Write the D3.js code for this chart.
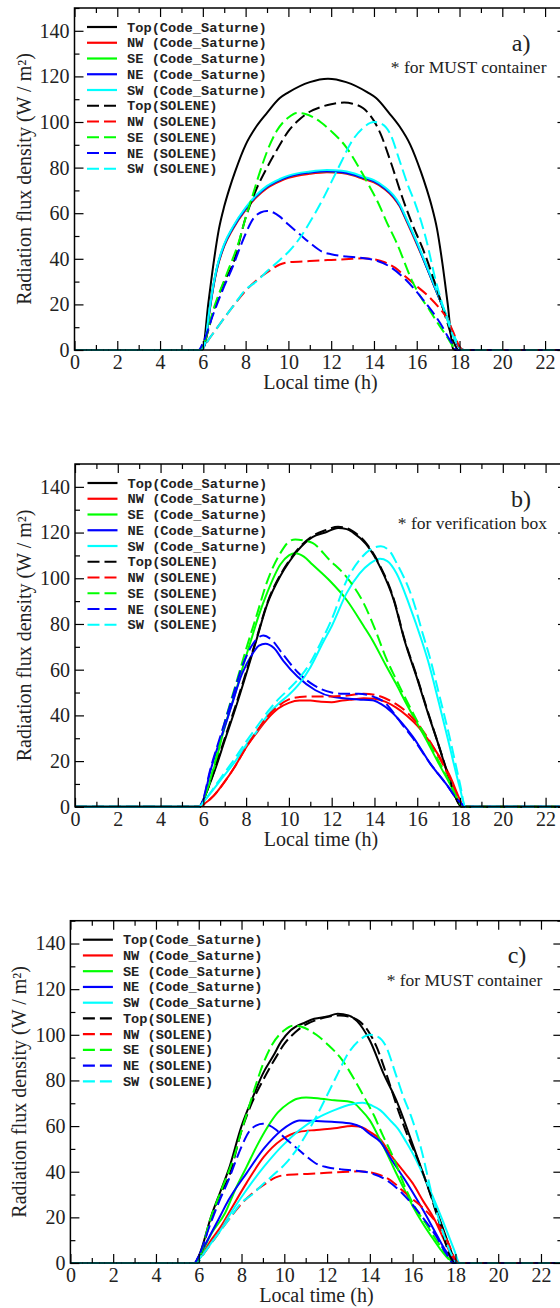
<!DOCTYPE html>
<html><head><meta charset="utf-8">
<script src="https://cdn.jsdelivr.net/npm/d3@7"></script>
<style>body{margin:0;background:#fff}svg{display:block}</style>
</head><body>
<svg id="chart" width="560" height="1308"></svg>
<script>
// ---------- tick labels / categories ----------
const hourTicks = [0,2,4,6,8,10,12,14,16,18,20,22];
const hourMinor = [1,3,5,7,9,11,13,15,17,19,21,23];
const valueTicks = [0,20,40,60,80,100,120,140];
const valueMinor = [10,30,50,70,90,110,130,150];
const legendLabels = ["Top(Code_Saturne)","NW (Code_Saturne)","SE (Code_Saturne)","NE (Code_Saturne)","SW (Code_Saturne)",
                      "Top(SOLENE)","NW (SOLENE)","SE (SOLENE)","NE (SOLENE)","SW (SOLENE)"];
const panelLabels = ["a)","b)","c)"];
const panelNotes = ["* for MUST container","* for verification box","* for MUST container"];
const xTitle = "Local time (h)";
const yTitle = "Radiation flux density (W / m²)";

// ---------- panel a: Code_Saturne ----------
const topCS_a = [[0,0],[5.9,0],[6,0.5],[6.25,20],[6.5,38],[6.75,53],[7,63],[7.25,71],[7.5,78],[8,90],[8.5,98],[9,104],[9.6,110.5],[10,113],[11,117.5],[11.85,119],[12.7,117.5],[13.7,113],[14.1,110.5],[14.7,104],[15.2,98],[15.7,90],[16.2,78],[16.45,71],[16.7,63],[16.95,53],[17.2,38],[17.45,20],[17.7,0.5],[17.8,0],[23,0]];
const nwCS_a = [[0,0],[5.9,0],[6.1,2.5],[6.3,16],[6.5,28],[6.65,35],[7,45.5],[7.4,53],[8,61.5],[8.5,67],[9,71],[9.6,74],[10,75.5],[11,77.3],[11.8,78],[12.5,77.6],[13,76.6],[13.5,75],[14,73.5],[14.5,70.5],[14.9,67],[15.2,63],[15.5,57],[16,46.5],[16.5,35.5],[16.8,28.5],[17.1,21.5],[17.4,14.5],[17.7,7],[17.9,2.5],[18.2,0],[23,0]];
const seCS_a = [[0,0],[5.9,0],[6.1,2.5],[6.3,16.5],[6.5,28.5],[6.65,35.5],[7,46],[7.4,53.5],[8,62],[8.5,67.5],[9,71.5],[9.6,74.5],[10,76],[11,77.8],[11.8,78.4],[12.5,78],[13,77],[13.5,75.5],[14,74],[14.5,71],[14.9,67.5],[15.2,63.5],[15.5,57.5],[16,47],[16.5,35.5],[16.8,28.5],[17.1,21.5],[17.4,14.5],[17.7,7],[17.9,2.5],[18.2,0],[23,0]];
const neCS_a = [[0,0],[5.9,0],[6.1,2.5],[6.3,16.5],[6.5,28.5],[6.65,35.5],[7,46],[7.4,53.5],[8,62],[8.5,67.5],[9,71.5],[9.6,74.5],[10,76],[11,77.8],[11.8,78.4],[12.5,78],[13,77],[13.5,75.5],[14,74],[14.5,71],[14.9,67.5],[15.2,63.5],[15.5,57.5],[16,47],[16.5,35.5],[16.8,28.5],[17.1,21.5],[17.4,14.5],[17.7,7],[17.9,2.5],[18.2,0],[23,0]];
const swCS_a = [[0,0],[5.9,0],[6.1,3],[6.3,17],[6.5,29],[6.65,36],[7,46.5],[7.4,54],[8,62.5],[8.5,68],[9,72],[9.6,75],[10,76.5],[11,78.3],[11.8,79],[12.5,78.6],[13,77.6],[13.5,76],[14,74.5],[14.5,71.5],[14.9,68],[15.2,64],[15.5,58],[16,47.5],[16.5,36],[16.8,29],[17.1,22],[17.4,15],[17.7,7.5],[17.9,3],[18.2,0],[23,0]];

// ---------- SOLENE (panels a and c) ----------
const topSOL = [[0,0],[5.9,0],[6,1.5],[6.5,17],[7,30],[7.42,38],[8,58],[8.5,70.5],[9,80],[9.6,90],[10,96],[10.5,101],[11,104.5],[11.5,106.5],[12,107.8],[12.6,108.5],[13,108],[13.5,106],[14,100.5],[14.3,95],[14.8,82],[15.36,66],[15.8,55],[16.3,44],[16.9,28],[17.4,13],[17.75,3],[17.95,0],[23,0]];
const nwSOL = [[0,0],[5.9,0],[6.3,5],[7,14],[7.4,19],[8,26],[8.5,30.5],[9,34],[9.6,37.5],[10,38.5],[11,39],[12,39.5],[13,40],[13.5,40.2],[14,39.8],[14.5,38.5],[15,36],[15.5,32],[16,28],[16.5,24],[17,19],[17.4,14],[17.7,8],[18,1.5],[18.15,0],[23,0]];
const seSOL = [[0,0],[5.9,0],[6,1.5],[6.5,18],[7.1,33],[7.7,48],[8,58],[8.3,67],[8.7,79],[9,87],[9.45,96],[10,102],[10.4,104],[10.8,103.5],[11.5,100],[12,96],[12.7,89],[13.3,80],[13.8,71.6],[14.2,64.5],[14.6,56],[15.06,47],[15.8,30],[16.2,23],[16.6,17.5],[17,11.5],[17.4,6],[17.8,0.5],[17.9,0],[23,0]];
const neSOL = [[0,0],[5.8,0],[6,3],[6.5,16],[7,28],[7.42,37],[7.7,44],[8,51],[8.35,57.5],[8.7,60.3],[9,61],[9.3,60.3],[9.6,58.5],[10,55],[10.56,50.5],[11,47],[11.6,43],[12,42],[12.7,41],[13.3,40.5],[14,39.5],[14.75,36.5],[15.5,30.7],[16.3,22],[17.1,11.7],[17.55,4.4],[17.9,0],[23,0]];
const swSOL = [[0,0],[5.9,0],[6.3,5],[7,14],[7.4,19],[8,26.5],[8.5,30],[9,34.5],[9.6,39.5],[10,43],[10.6,50],[11,56],[11.6,66],[12,73.5],[12.5,83],[12.9,90.5],[13.5,97.5],[14,100],[14.4,99],[14.75,95],[15.2,83],[15.6,72],[15.9,65],[16.4,50],[16.9,30],[17.4,14],[17.8,4],[18.1,0],[23,0]];

// ---------- panel b ----------
const topCS_b = [[0,0],[5.85,0],[6,3],[6.5,15],[7,29],[7.5,43],[8,58],[8.45,72],[9,89],[9.6,101],[10,107],[10.4,112],[11.1,118],[11.7,120],[12.3,122],[12.7,121.5],[13,120],[13.6,115],[14.26,105],[14.9,90.5],[15.4,73],[16,56],[16.5,41],[17,27],[17.5,12],[17.9,2],[18.05,0],[23,0]];
const nwCS_b = [[0,0],[5.8,0],[6,1],[6.5,5],[7,11],[7.5,18],[8,26],[8.5,32.5],[9,38.5],[9.5,43],[10,45.5],[10.5,46.5],[11,46.5],[11.5,46],[12,45.8],[12.5,46.5],[13,47],[13.5,47.5],[14,47.3],[14.5,46],[15,43.5],[15.5,40],[16,35.5],[16.5,29.5],[17,22.5],[17.5,14],[18,3],[18.15,0],[23,0]];
const seCS_b = [[0,0],[5.8,0],[6,3],[6.5,17],[7,35],[7.5,50],[8,66],[8.2,72],[8.6,84],[9,94],[9.6,106],[10,110],[10.3,111],[10.7,109.5],[11.1,106],[11.9,99],[12.7,90.5],[13.5,79],[13.9,73],[14.5,62.5],[15,54],[15.5,45],[16,36.5],[16.5,28],[17,19],[17.5,10.5],[18,1.5],[18.15,0],[23,0]];
const neCS_b = [[0,0],[5.8,0],[6,3],[6.3,14.6],[6.7,27],[7,35],[7.3,43.7],[7.8,58],[8.3,67],[8.6,70.5],[8.9,71.4],[9.3,69.5],[9.73,64],[10.4,57],[11.24,51],[12.1,48],[13.25,47],[13.9,46.6],[14.3,45],[14.8,41.5],[15.3,36.5],[15.8,30.6],[16.6,19],[17.45,8.7],[17.8,4],[18.1,1],[18.2,0],[23,0]];
const swCS_b = [[0,0],[5.8,0],[6,2],[6.5,8],[7,14],[7.5,20],[8,27],[8.5,33],[9,40],[9.5,45],[10,49],[10.5,54],[11,61],[11.6,72],[12,79],[12.7,93.5],[13.3,102],[13.8,106.5],[14.26,108.5],[14.6,107.5],[15.04,102],[15.66,87.5],[16.2,73],[16.5,64],[17,46],[17.5,27],[18,8],[18.25,0],[23,0]];
const topSOL_b = [[0,0],[5.85,0],[6,3],[6.5,15.5],[7,30],[7.5,44],[8,59],[8.45,72.5],[9,89.5],[9.6,101.5],[10,107.5],[10.4,112.5],[11.1,118.5],[11.7,121],[12.3,122.5],[12.7,122],[13,120.5],[13.6,115.5],[14.26,105.5],[14.9,91],[15.4,73.5],[16,56.5],[16.5,41.5],[17,27],[17.5,12.5],[17.9,2],[18.05,0],[23,0]];
const nwSOL_b = [[0,0],[5.8,0],[6,1],[6.5,5],[7,11],[7.5,18],[8,26],[8.5,33],[9,39.5],[9.5,44],[10,47],[10.5,48],[11,48.3],[11.5,48.3],[12,48.3],[12.5,48.5],[13,49],[13.5,49.5],[14,49],[14.5,47.5],[15,45],[15.5,41.5],[16,36.5],[16.5,30],[17,22],[17.5,13],[18,2.5],[18.15,0],[23,0]];
const seSOL_b = [[0,0],[5.8,0],[6,3],[6.5,18],[7,37],[7.5,53],[8,69],[8.5,84],[9,99],[9.6,111],[10,116],[10.3,117],[10.7,116.5],[11.1,115.5],[11.9,108],[12.7,100.5],[13.5,89],[14.1,76],[14.5,66],[15,56],[15.5,46.5],[16,37.5],[16.5,29],[17,20],[17.5,11],[18,1.5],[18.15,0],[23,0]];
const neSOL_b = [[0,0],[5.8,0],[6,3.5],[6.3,15.5],[6.7,28],[7,37],[7.3,46],[7.8,61],[8.3,71],[8.8,75],[9.2,73],[9.7,67],[10.4,59],[11.2,53],[12,50],[12.5,49.5],[13.25,49.5],[14,48],[14.5,45.5],[14.9,41],[15.3,36],[15.8,30],[16.6,19],[17.45,8.7],[17.8,4],[18.1,1],[18.2,0],[23,0]];
const swSOL_b = [[0,0],[5.8,0],[6,2],[6.5,8.5],[7,15],[7.5,21.5],[8,28.5],[8.5,35],[9,41.5],[9.5,47],[10,51.5],[10.5,56.5],[11,63],[11.55,73],[12,82],[12.7,99],[13.3,108],[13.8,112.5],[14.3,114],[14.7,112],[15.04,106.6],[15.8,90.5],[16.28,75],[16.6,65],[17,50],[17.5,31],[18,10],[18.25,0],[23,0]];

// ---------- panel c: Code_Saturne ----------
const topCS_c = [[0,0],[5.8,0],[6,3],[6.6,21],[7,31],[7.4,41],[8,60],[8.5,72],[9,83],[9.5,91],[9.85,97],[10.3,102],[11,105.5],[11.4,107],[12,108],[12.5,109.2],[13,108.5],[13.4,106],[14,97.5],[14.64,83],[15.25,71],[15.5,65],[16,52],[16.5,39],[17,26],[17.5,13],[17.9,2.5],[18,0],[23,0]];
const nwCS_c = [[0,0],[5.85,0],[6,1.5],[6.58,10],[7,15.5],[7.4,21.8],[8.23,35],[9.05,46.6],[9.87,54],[10.7,57.5],[11.5,58.3],[12.34,59],[13.16,60],[13.5,59.8],[14,57.5],[14.5,54],[15,47],[15.5,41],[16,35],[16.5,27],[17,19.5],[17.5,9.5],[17.9,2],[18.05,0],[23,0]];
const seCS_c = [[0,0],[5.85,0],[6,2],[6.6,13],[7.24,22],[7.7,32],[8.23,42],[8.7,51],[9.21,59.5],[9.7,66],[10.2,70],[10.6,72],[11.02,72.5],[11.7,72],[12.34,71.3],[13.16,70.5],[13.6,67],[14,62.5],[14.4,55.5],[14.8,48],[15.2,40],[15.6,32.5],[16,25],[16.5,17],[17,10],[17.3,6],[17.6,2.5],[17.9,0.5],[18,0],[23,0]];
const neCS_c = [[0,0],[5.8,0],[6,3],[6.58,13],[7,20.5],[7.4,27.7],[8.23,39.3],[9.05,50.2],[9.87,58.2],[10.3,61],[10.7,62.5],[11.5,62.2],[12.34,61.8],[13.16,61],[13.6,59.5],[14,56.5],[14.5,53],[15,45.5],[15.6,37],[16,31],[16.5,23],[17,14.5],[17.5,6],[17.9,1],[18,0],[23,0]];
const swCS_c = [[0,0],[5.85,0],[6,1.5],[6.58,8.7],[7,14],[7.4,20.4],[8.23,32],[9.05,42.2],[9.87,51],[10.7,58.2],[11.5,63.3],[12.34,67],[13.16,69.6],[13.66,70.2],[14.1,69],[14.48,67],[15,62],[15.3,59],[15.7,53],[16.12,46],[16.5,38.5],[16.95,29],[17.45,17.5],[17.94,5.8],[18.2,0],[23,0]];

const panelSeries = [
  [topCS_a, nwCS_a, seCS_a, neCS_a, swCS_a, topSOL, nwSOL, seSOL, neSOL, swSOL],
  [topCS_b, nwCS_b, seCS_b, neCS_b, swCS_b, topSOL_b, nwSOL_b, seSOL_b, neSOL_b, swSOL_b],
  [topCS_c, nwCS_c, seCS_c, neCS_c, swCS_c, topSOL, nwSOL, seSOL, neSOL, swSOL]
];

// ---------- styling / layout ----------
const colors = ["#000000","#ff0000","#00ff00","#0000ff","#00ffff"];
const layouts = [
  {left:74.5, top:8,     bottom:350},
  {left:75,   top:464,   bottom:806.8},
  {left:70.4, top:920.7, bottom:1263}
];
const pxPerHour = 21.39;
const serif = "'Liberation Serif','Times New Roman',serif";
const mono = "'Liberation Mono','Courier New',monospace";

const svg = d3.select("#chart");

layouts.forEach((L, pi) => {
  const right = L.left + 23 * pxPerHour;
  const x = d3.scaleLinear().domain([0, 23]).range([L.left, right]);
  const y = d3.scaleLinear().domain([0, 150]).range([L.bottom, L.top]);
  const g = svg.append("g");

  // curves
  const line = d3.line().x(d => x(d[0])).y(d => y(d[1])).curve(d3.curveMonotoneX);
  panelSeries[pi].forEach((data, i) => {
    g.append("path").datum(data)
      .attr("d", line)
      .attr("fill", "none")
      .attr("stroke", colors[i % 5])
      .attr("stroke-width", 2)
      .attr("stroke-dasharray", i >= 5 ? "12,5" : null);
  });

  // axes
  const styleAxis = sel => {
    sel.select(".domain").remove();
    sel.selectAll(".tick line").attr("stroke", "#000").attr("stroke-width", 1.2);
    sel.selectAll("text").attr("font-family", serif).attr("font-size", 20).attr("fill", "#222");
  };
  g.append("g").attr("transform", `translate(0,${L.bottom})`)
    .call(d3.axisBottom(x).tickValues(hourTicks).tickSize(-9).tickPadding(5).tickFormat(d3.format("d")))
    .call(styleAxis);
  g.append("g").attr("transform", `translate(0,${L.bottom})`)
    .call(d3.axisBottom(x).tickValues(hourMinor).tickSize(-5).tickFormat(""))
    .call(styleAxis);
  g.append("g").attr("transform", `translate(0,${L.top})`)
    .call(d3.axisTop(x).tickValues(hourTicks).tickSize(-9).tickFormat(""))
    .call(styleAxis);
  g.append("g").attr("transform", `translate(0,${L.top})`)
    .call(d3.axisTop(x).tickValues(hourMinor).tickSize(-5).tickFormat(""))
    .call(styleAxis);
  g.append("g").attr("transform", `translate(${L.left},0)`)
    .call(d3.axisLeft(y).tickValues(valueTicks).tickSize(-9).tickPadding(5).tickFormat(d3.format("d")))
    .call(styleAxis);
  g.append("g").attr("transform", `translate(${L.left},0)`)
    .call(d3.axisLeft(y).tickValues(valueMinor).tickSize(-5).tickFormat(""))
    .call(styleAxis);
  g.append("g").attr("transform", `translate(${right},0)`)
    .call(d3.axisRight(y).tickValues(valueTicks).tickSize(-9).tickFormat(""))
    .call(styleAxis);
  g.append("g").attr("transform", `translate(${right},0)`)
    .call(d3.axisRight(y).tickValues(valueMinor).tickSize(-5).tickFormat(""))
    .call(styleAxis);

  // frame
  g.append("rect").attr("x", L.left).attr("y", L.top)
    .attr("width", right - L.left).attr("height", L.bottom - L.top)
    .attr("fill", "none").attr("stroke", "#000").attr("stroke-width", 1.5);

  // axis titles
  g.append("text").attr("x", (L.left + right) / 2).attr("y", L.bottom + 39)
    .attr("text-anchor", "middle").attr("font-family", serif).attr("font-size", 20).attr("fill", "#222")
    .text(xTitle);
  g.append("text")
    .attr("transform", `translate(${L.left - 44},${(L.top + L.bottom) / 2}) rotate(-90)`)
    .attr("text-anchor", "middle").attr("font-family", serif).attr("font-size", 20).attr("fill", "#222")
    .text(yTitle);

  // panel label + note
  g.append("text").attr("x", right - 36).attr("y", L.top + 42.5)
    .attr("text-anchor", "end").attr("font-family", serif).attr("font-size", 24).attr("fill", "#222")
    .text(panelLabels[pi]);
  g.append("text").attr("x", right - 20).attr("y", L.top + 65)
    .attr("text-anchor", "end").attr("font-family", serif).attr("font-size", 17.5).attr("fill", "#222")
    .text(panelNotes[pi]);

  // legend
  const lg = g.append("g");
  legendLabels.forEach((lab, i) => {
    const cy = L.top + 19 + i * 15.75;
    lg.append("line").attr("x1", L.left + 12.5).attr("x2", L.left + 42.5)
      .attr("y1", cy).attr("y2", cy)
      .attr("stroke", colors[i % 5]).attr("stroke-width", 2.2)
      .attr("stroke-dasharray", i >= 5 ? "12,5" : null);
    lg.append("text").attr("x", L.left + 52.5).attr("y", cy + 4.5)
      .attr("font-family", mono).attr("font-weight", "bold").attr("font-size", 13.7).attr("fill", "#222")
      .text(lab);
  });
});
</script>
</body></html>
